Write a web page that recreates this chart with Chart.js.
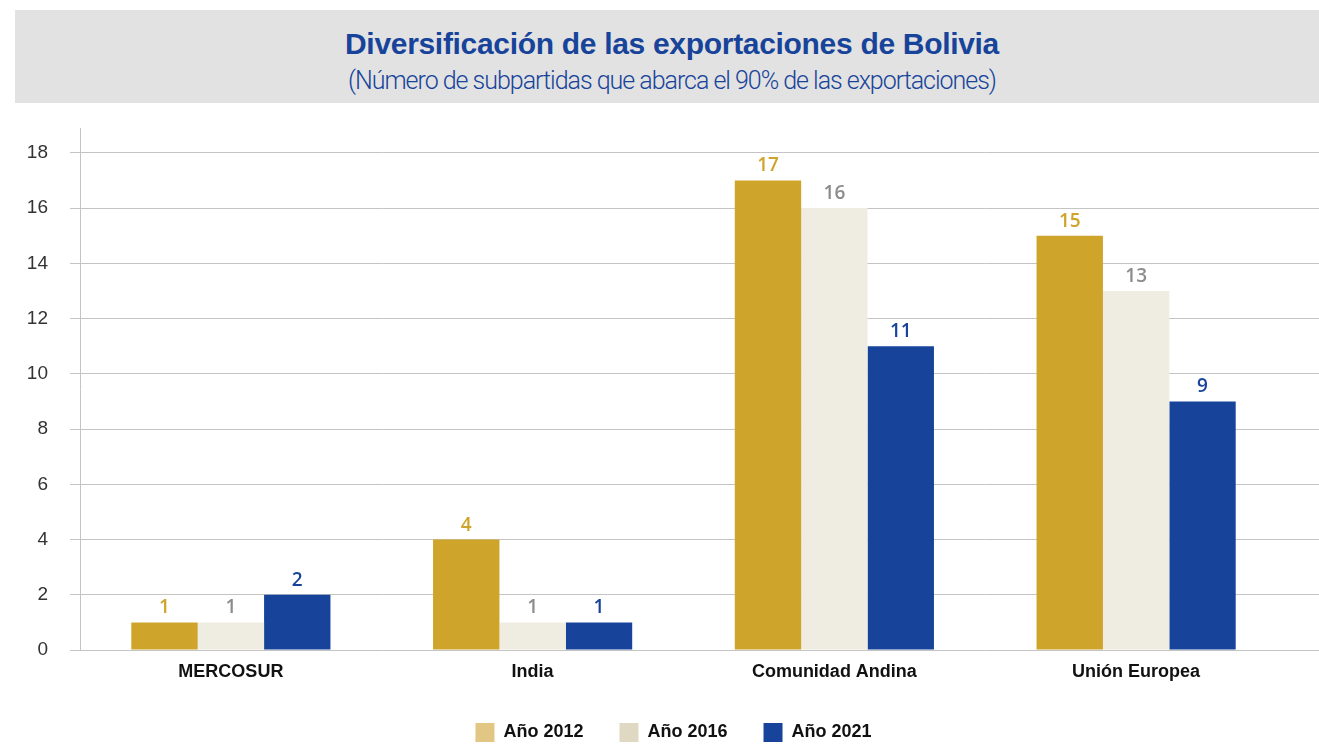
<!DOCTYPE html>
<html><head><meta charset="utf-8">
<script src="https://cdn.jsdelivr.net/npm/chart.js@4.4.1/dist/chart.umd.min.js"></script>
<style>
html,body{margin:0;padding:0;background:#fff;width:1319px;height:747px;overflow:hidden;}
#hdr{position:absolute;left:15px;top:10px;width:1304px;height:93px;background:#e2e2e2;}
#t1,#t2{position:absolute;left:0;white-space:nowrap;line-height:1;color:#17449a;}
#t1{font:bold 30px "Liberation Sans",Arial,sans-serif;top:17px;}
#t2{font:300 25px Roboto,"Liberation Sans",sans-serif;top:56px;}
#wrap{position:absolute;left:0;top:0;width:1319px;height:747px;}
</style></head><body>
<div id="hdr"><div id="t1">Diversificación de las exportaciones de Bolivia</div><div id="t2">(Número de subpartidas que abarca el 90% de las exportaciones)</div></div>
<div id="wrap"><canvas id="c" width="1319" height="747"></canvas></div>
<script>
const categories = ['MERCOSUR', 'India', 'Comunidad Andina', 'Unión Europea'];
const seriesNames = ['Año 2012', 'Año 2016', 'Año 2021'];
const values2012 = [1, 4, 17, 15];
const values2016 = [1, 1, 16, 13];
const values2021 = [2, 1, 11, 9];
const yTickValues = [0, 2, 4, 6, 8, 10, 12, 14, 16, 18];

const barColors = ['#cfa42a', '#efece1', '#17449a'];
const legendColors = ['#e2c684', '#dfd9c3', '#17449a'];
const labelColors = ['#cfa42a', '#8c8c8c', '#17449a'];
const gridColor = '#c4c4c4';

function fitText(el, x0, x1) {
  el.style.letterSpacing = '0px';
  const w = el.getBoundingClientRect().width;
  const n = el.textContent.length;
  const ls = ((x1 - x0) - w) / n;
  el.style.letterSpacing = ls + 'px';
  el.style.left = (x0 - 15) + 'px';
}
fitText(document.getElementById('t1'), 345, 999);
fitText(document.getElementById('t2'), 348, 996);

const dataLabelPlugin = {
  id: 'dataLabels',
  afterDatasetsDraw(chart) {
    const ctx = chart.ctx;
    chart.data.datasets.forEach((ds, i) => {
      const meta = chart.getDatasetMeta(i);
      meta.data.forEach((el, j) => {
        ctx.save();
        ctx.font = '600 19px "Open Sans", sans-serif';
        ctx.fillStyle = labelColors[i];
        ctx.textAlign = 'center';
        ctx.textBaseline = 'alphabetic';
        ctx.fillText(String(ds.data[j]), el.x, el.y - 9);
        ctx.restore();
      });
    });
  }
};

const gridExtPlugin = {
  id: 'gridExt',
  beforeDatasetsDraw(chart) {
    const ctx = chart.ctx, y = chart.scales.y, area = chart.chartArea;
    ctx.save();
    ctx.strokeStyle = gridColor;
    ctx.lineWidth = 1;
    y.ticks.forEach(t => {
      const p = y.getPixelForValue(t.value);
      const py = Math.round(p - 0.5) + 0.5;
      ctx.beginPath();
      ctx.moveTo(area.right - 1, py);
      ctx.lineTo(chart.width, py);
      ctx.stroke();
    });
    ctx.restore();
  }
};

const legendShiftPlugin = {
  id: 'legendShift',
  afterLayout(chart) {
    if (chart.legend) {
      chart.legend.left += 16;
      chart.legend.right += 16;
    }
  }
};

new Chart(document.getElementById('c'), {
  type: 'bar',
  data: {
    labels: categories,
    datasets: [
      { label: seriesNames[0], data: values2012, backgroundColor: barColors[0] },
      { label: seriesNames[1], data: values2016, backgroundColor: barColors[1] },
      { label: seriesNames[2], data: values2021, backgroundColor: barColors[2] }
    ]
  },
  options: {
    responsive: false,
    animation: false,
    devicePixelRatio: 1,
    categoryPercentage: 0.66,
    barPercentage: 1.0,
    layout: { padding: { top: 128, left: 28, right: 32, bottom: -5 } },
    plugins: {
      title: { display: false },
      tooltip: { enabled: false },
      legend: {
        position: 'bottom',
        labels: {
          boxWidth: 19,
          boxHeight: 19,
          padding: 36,
          color: '#111',
          font: { family: '"Liberation Sans", Arial, sans-serif', size: 18, weight: 'bold' },
          generateLabels(chart) {
            return chart.data.datasets.map((ds, i) => ({
              text: ds.label,
              fillStyle: legendColors[i],
              strokeStyle: legendColors[i],
              lineWidth: 0,
              fontColor: '#111',
              hidden: false,
              datasetIndex: i
            }));
          }
        }
      }
    },
    scales: {
      x: {
        grid: { display: false, drawTicks: false },
        border: { display: false },
        ticks: {
          color: '#111',
          padding: 11,
          font: { family: '"Liberation Sans", Arial, sans-serif', size: 18, weight: 'bold' }
        },
        afterFit(s) { s.height = 37; }
      },
      y: {
        min: 0,
        max: 18.9,
        afterBuildTicks(s) { s.ticks = yTickValues.map(v => ({ value: v })); },
        ticks: {
          stepSize: 2,
          includeBounds: false,
          color: '#333',
          padding: 22,
          font: { family: '"Liberation Sans", Arial, sans-serif', size: 19 }
        },
        grid: { color: gridColor, tickLength: 10, drawTicks: true, lineWidth: 1 },
        border: { display: true, color: gridColor },
        afterFit(s) { s.width = 52; s.paddingTop = 0; s.paddingBottom = 0; }
      }
    }
  },
  plugins: [gridExtPlugin, dataLabelPlugin, legendShiftPlugin]
});
</script>
</body></html>
